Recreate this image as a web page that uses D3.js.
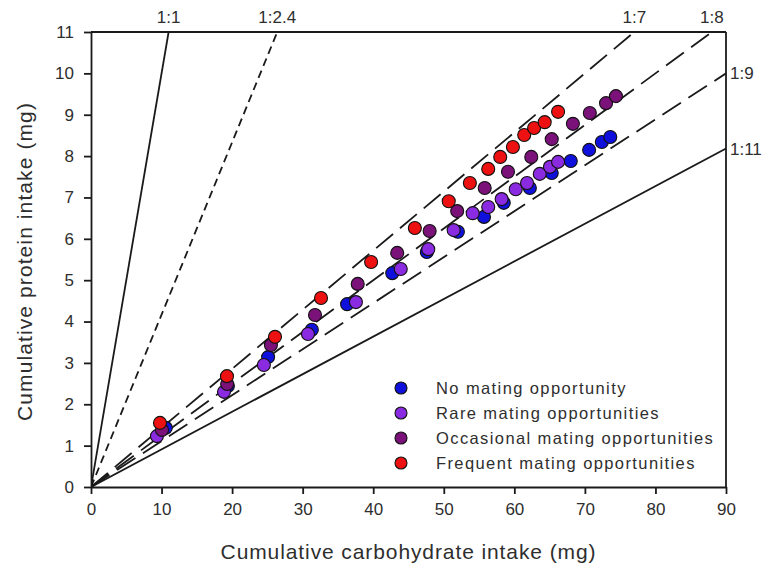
<!DOCTYPE html>
<html>
<head>
<meta charset="utf-8">
<script src="https://cdn.jsdelivr.net/npm/d3@7"></script>
<style>
  html, body { margin: 0; padding: 0; background: #fff; }
  svg { display: block; font-family: "Liberation Sans", Arial, sans-serif; }
</style>
</head>
<body>
<svg id="chart" width="769" height="571"></svg>
<script>
// ---- data ----
const xTicks = [0, 10, 20, 30, 40, 50, 60, 70, 80, 90];
const yTicks = [0, 1, 2, 3, 4, 5, 6, 7, 8, 9, 10, 11];

const seriesNames = ["No mating opportunity", "Rare mating opportunities",
                     "Occasional mating opportunities", "Frequent mating opportunities"];

const noCarb   = [10.6, 19.4, 25.1, 31.3, 36.3, 42.7, 47.6, 52.0, 55.7, 58.5, 62.2, 65.3, 68.0, 70.6, 72.4, 73.6];
const noProt   = [1.43, 2.44, 3.14, 3.80, 4.42, 5.17, 5.68, 6.17, 6.53, 6.87, 7.23, 7.59, 7.88, 8.15, 8.34, 8.46];

const rareCarb = [9.35, 18.85, 24.5, 30.75, 37.55, 43.9, 47.8, 51.4, 54.1, 56.3, 58.2, 60.2, 61.8, 63.6, 65.05, 66.2];
const rareProt = [1.23, 2.30, 2.95, 3.70, 4.47, 5.27, 5.75, 6.21, 6.62, 6.77, 6.96, 7.20, 7.35, 7.57, 7.74, 7.86];

const occCarb  = [10.06, 19.3, 25.5, 31.75, 37.8, 43.4, 48.0, 51.9, 55.8, 59.1, 62.4, 65.3, 68.3, 70.7, 73.0, 74.4];
const occProt  = [1.38, 2.49, 3.43, 4.16, 4.91, 5.66, 6.19, 6.67, 7.23, 7.62, 7.98, 8.41, 8.78, 9.04, 9.28, 9.45];

const freqCarb = [9.78, 19.27, 26.08, 32.6, 39.7, 45.9, 50.7, 53.7, 56.3, 58.0, 59.8, 61.4, 62.8, 64.3, 66.2];
const freqProt = [1.55, 2.68, 3.63, 4.57, 5.44, 6.26, 6.91, 7.35, 7.69, 7.98, 8.22, 8.51, 8.68, 8.82, 9.07];

const seriesColors = ["#1010dc", "#8a2be2", "#7a127a", "#ee1111"];

// ratio reference lines (protein : carbohydrate = 1 : r)
const ratios      = [1, 2.4, 7, 8, 9, 11];
const ratioLabels = ["1:1", "1:2.4", "1:7", "1:8", "1:9", "1:11"];
const ratioDash   = ["", "8,5", "22,9", "22,9", "22,9", ""];

// ---- layout ----
const svg = d3.select("#chart");
const x = d3.scaleLinear().domain([0, 90]).range([91, 726]);
const y = d3.scaleLinear().domain([0, 11]).range([487, 32]);
const ink = "#1a1a1a";
const txt = "#2e2e2e";

// clip
svg.append("defs").append("clipPath").attr("id", "plotclip")
  .append("rect").attr("x", x(0)).attr("y", y(11)).attr("width", x(90) - x(0)).attr("height", y(0) - y(11));

// ratio lines
const lineG = svg.append("g").attr("clip-path", "url(#plotclip)");
ratios.forEach((r, i) => {
  const xEnd = Math.min(90, 11 * r);
  lineG.append("line")
    .attr("x1", x(0)).attr("y1", y(0))
    .attr("x2", x(xEnd)).attr("y2", y(xEnd / r))
    .attr("stroke", ink).attr("stroke-width", 1.8)
    .attr("stroke-dasharray", ratioDash[i] || null);
});

// ratio labels
ratios.forEach((r, i) => {
  const xEnd = Math.min(90, 11 * r);
  if (xEnd < 90) {
    svg.append("text").attr("x", x(xEnd)).attr("y", 23)
      .attr("text-anchor", "middle").attr("font-size", 17).attr("fill", txt)
      .text(ratioLabels[i]);
  } else {
    svg.append("text").attr("x", x(90) + 4).attr("y", y(90 / r) + 6)
      .attr("text-anchor", "start").attr("font-size", 17).attr("fill", txt)
      .text(ratioLabels[i]);
  }
});

// frame (top and right)
svg.append("line").attr("x1", x(0)).attr("x2", x(90)).attr("y1", y(11)).attr("y2", y(11))
  .attr("stroke", ink).attr("stroke-width", 1.8);
svg.append("line").attr("x1", x(90)).attr("x2", x(90)).attr("y1", y(11)).attr("y2", y(0))
  .attr("stroke", ink).attr("stroke-width", 1.8);

// axes
const xAxis = svg.append("g").attr("transform", `translate(0,${y(0)})`)
  .call(d3.axisBottom(x).tickValues(xTicks).tickSize(7).tickSizeOuter(0).tickPadding(9));
const yAxis = svg.append("g").attr("transform", `translate(${x(0)},0)`)
  .call(d3.axisLeft(y).tickValues(yTicks).tickSize(7).tickSizeOuter(0).tickPadding(10));
[xAxis, yAxis].forEach(g => {
  g.selectAll("path, line").attr("stroke", ink).attr("stroke-width", 1.8);
  g.selectAll("text").attr("font-size", 17).attr("fill", txt)
    .style("font-family", "'Liberation Sans', Arial, sans-serif");
});

// axis titles
svg.append("text").attr("x", (x(0) + x(90)) / 2).attr("y", 559)
  .attr("text-anchor", "middle").attr("font-size", 21).attr("letter-spacing", 0.9).attr("fill", txt)
  .text("Cumulative carbohydrate intake (mg)");
svg.append("text")
  .attr("transform", `translate(32,${(y(0) + y(11)) / 2 + 2}) rotate(-90)`)
  .attr("text-anchor", "middle").attr("font-size", 21).attr("letter-spacing", 1.1).attr("fill", txt)
  .text("Cumulative protein intake (mg)");

// points
const allSeries = [
  [noCarb, noProt], [rareCarb, rareProt], [occCarb, occProt], [freqCarb, freqProt]
];
const ptG = svg.append("g");
allSeries.forEach(([cx, cy], si) => {
  ptG.selectAll(null).data(cx.map((v, i) => [v, cy[i]])).enter().append("circle")
    .attr("cx", d => x(d[0])).attr("cy", d => y(d[1])).attr("r", 6.5)
    .attr("fill", seriesColors[si]).attr("stroke", "#111").attr("stroke-width", 1.1);
});

// legend
const leg = svg.append("g");
seriesNames.forEach((name, i) => {
  const ly = 388 + i * 25;
  leg.append("circle").attr("cx", 401).attr("cy", ly).attr("r", 6)
    .attr("fill", seriesColors[i]).attr("stroke", "#111").attr("stroke-width", 1.1);
  leg.append("text").attr("x", 436).attr("y", ly + 6).attr("font-size", 16.5)
    .attr("letter-spacing", 1.4).attr("fill", txt)
    .text(name);
});
</script>
</body>
</html>
